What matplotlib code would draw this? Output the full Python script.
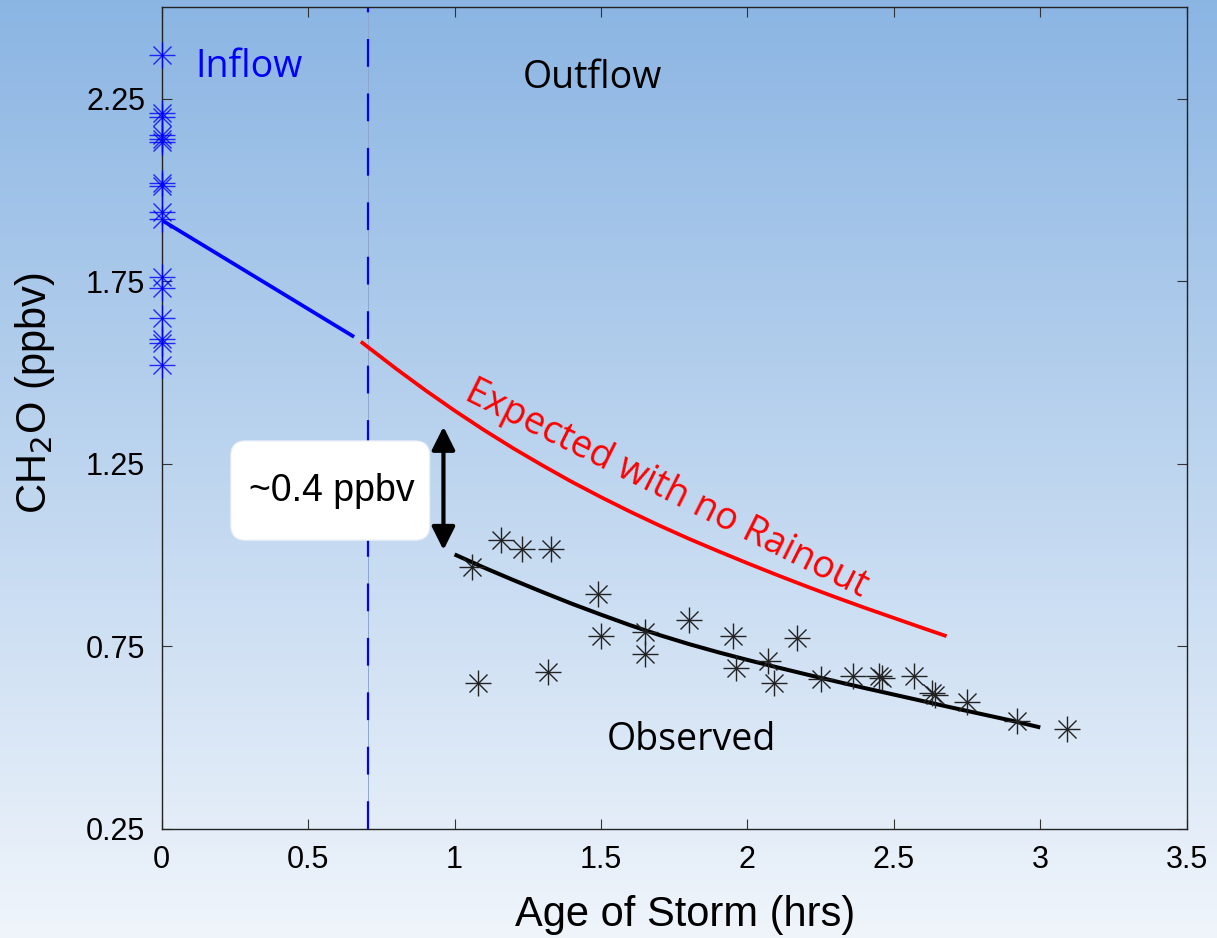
import numpy as np
import matplotlib
matplotlib.use('Agg')
from matplotlib import pyplot as plt
from matplotlib.patches import FancyBboxPatch

# inflow measurements (all at age 0)
inflow_y = [2.37, 2.21, 2.20, 2.15, 2.14, 2.13, 2.02, 2.01, 1.94, 1.92,
            1.76, 1.73, 1.65, 1.59, 1.58, 1.52]
inflow_x = [0.0] * len(inflow_y)

# outflow observations
obs_x = [1.06, 1.16, 1.23, 1.33, 1.08, 1.32, 1.49, 1.50, 1.65, 1.65,
         1.80, 1.95, 1.96, 2.07, 2.09, 2.17, 2.25, 2.36, 2.45, 2.46,
         2.57, 2.63, 2.64, 2.75, 2.92, 3.09]
obs_y = [0.967, 1.040, 1.015, 1.017, 0.648, 0.678, 0.892, 0.778, 0.789, 0.728,
         0.821, 0.777, 0.689, 0.710, 0.648, 0.772, 0.661, 0.669, 0.668, 0.662,
         0.668, 0.620, 0.616, 0.596, 0.545, 0.522]

# inflow trend
inflow_line_x = [0.0, 0.657]
inflow_line_y = [1.917, 1.597]

# expected with no rainout
exp_x = [0.68, 0.8, 0.9, 1.0, 1.1, 1.2, 1.3, 1.4, 1.5, 1.6, 1.7,
         1.8, 1.9, 2.0, 2.1, 2.2, 2.3, 2.4, 2.5, 2.6, 2.68]
exp_y = [1.584, 1.510, 1.451, 1.395, 1.342, 1.292, 1.245, 1.200, 1.158, 1.118, 1.080,
         1.044, 1.010, 0.977, 0.945, 0.914, 0.884, 0.855, 0.827, 0.799, 0.777]

# observed fit
fit_x = [1.0, 1.1, 1.2, 1.3, 1.4, 1.5, 1.6, 1.7, 1.8, 1.9, 2.0,
         2.1, 2.2, 2.3, 2.4, 2.5, 2.6, 2.7, 2.8, 2.9, 3.0]
fit_y = [1.001, 0.965, 0.931, 0.898, 0.866, 0.836, 0.807, 0.780, 0.7555, 0.733, 0.712,
         0.692, 0.6725, 0.6535, 0.635, 0.617, 0.599, 0.581, 0.5635, 0.546, 0.527]

storm_boundary = 0.706
xticks = [0, 0.5, 1, 1.5, 2, 2.5, 3, 3.5]
yticks = [0.25, 0.75, 1.25, 1.75, 2.25]

fig = plt.figure(figsize=(12.17, 9.38), dpi=100)

# gradient background
bg = fig.add_axes([0, 0, 1, 1], zorder=-10)
top = np.array([0.545, 0.710, 0.890])
bot = np.array([0.940, 0.960, 0.985])
t = np.linspace(0, 1, 256)[:, None]
grad = top[None, :] * (1 - t) + bot[None, :] * t
bg.imshow(grad[:, None, :], aspect='auto', extent=[0, 1, 0, 1])
bg.axis('off')

ax = fig.add_axes([0.1329, 0.1167, 0.8422, 0.8755])
ax.patch.set_alpha(0)

# boundary between inflow and outflow
ax.axvline(storm_boundary, color='#8ea6cf', lw=0.7, zorder=1)
ax.axvline(storm_boundary, color='blue', lw=1.6, dashes=(12.5, 12), zorder=2)

# model curves
ax.plot(inflow_line_x, inflow_line_y, color='blue', lw=2.7, solid_capstyle='butt', zorder=3)
ax.plot(exp_x, exp_y, color='red', lw=2.7, solid_capstyle='butt', zorder=3)
ax.plot(fit_x, fit_y, color='black', lw=2.9, solid_capstyle='butt', zorder=3)

# asterisk markers
for m, ms in (('+', 19), ('x', 13)):
    ax.plot(inflow_x, inflow_y, ls='none', marker=m, ms=ms, mew=1.0,
            color='blue', alpha=0.8, clip_on=False, zorder=4)
    ax.plot(obs_x, obs_y, ls='none', marker=m, ms=ms, mew=1.0,
            color='#222222', clip_on=False, zorder=4)

# ~0.4 ppbv box and arrow
box = FancyBboxPatch((0.236, 1.040), 0.679, 0.272,
                     boxstyle='round,pad=0,rounding_size=0.05',
                     mutation_aspect=0.8, fc='white', ec='#e8eef8', lw=0.8, zorder=5)
ax.add_patch(box)
ax.text(0.58, 1.176, '~0.4 ppbv', fontsize=27, family='Liberation Sans',
        ha='center', va='center', zorder=6)
ax.annotate('', xy=(0.962, 1.013), xytext=(0.962, 1.351),
            arrowprops=dict(arrowstyle='<|-|>', lw=3, color='black',
                            mutation_scale=35, shrinkA=0, shrinkB=0), zorder=6)

# labels in the plot
ax.text(0.297, 2.336, 'Inflow', color='blue', fontsize=27, family='Open Sans',
        ha='center', va='center')
ax.text(1.471, 2.307, 'Outflow', color='black', fontsize=27, family='Open Sans',
        ha='center', va='center')
ax.text(1.809, 0.492, 'Observed', color='black', fontsize=27, family='Open Sans',
        ha='center', va='center')
ax.text(1.725, 1.180, 'Expected with no Rainout', color='red', fontsize=27,
        family='Open Sans', ha='center', va='center', rotation=-26.5,
        rotation_mode='anchor')

ax.set_xlim(0, 3.5)
ax.set_ylim(0.25, 2.5)
ax.set_xticks(xticks)
ax.set_xticklabels(['0', '0.5', '1', '1.5', '2', '2.5', '3', '3.5'])
ax.set_yticks(yticks)
ax.set_yticklabels(['0.25', '0.75', '1.25', '1.75', '2.25'])
ax.tick_params(direction='in', length=7, width=0.8, color='#333333',
               top=True, right=True, labelsize=22, pad=12)
for lab in ax.get_xticklabels() + ax.get_yticklabels():
    lab.set_family('Liberation Sans')
for s in ax.spines.values():
    s.set_color('#222222')
    s.set_linewidth(1.0)

ax.set_xlabel('Age of Storm (hrs)', fontsize=30, family='Liberation Sans')
ax.set_ylabel('CH$_2$O (ppbv)', fontsize=30, family='Liberation Sans')
ax.xaxis.set_label_coords(0.511, -0.081)
ax.yaxis.set_label_coords(-0.102, 0.53)

plt.savefig('out.png', dpi=100)
